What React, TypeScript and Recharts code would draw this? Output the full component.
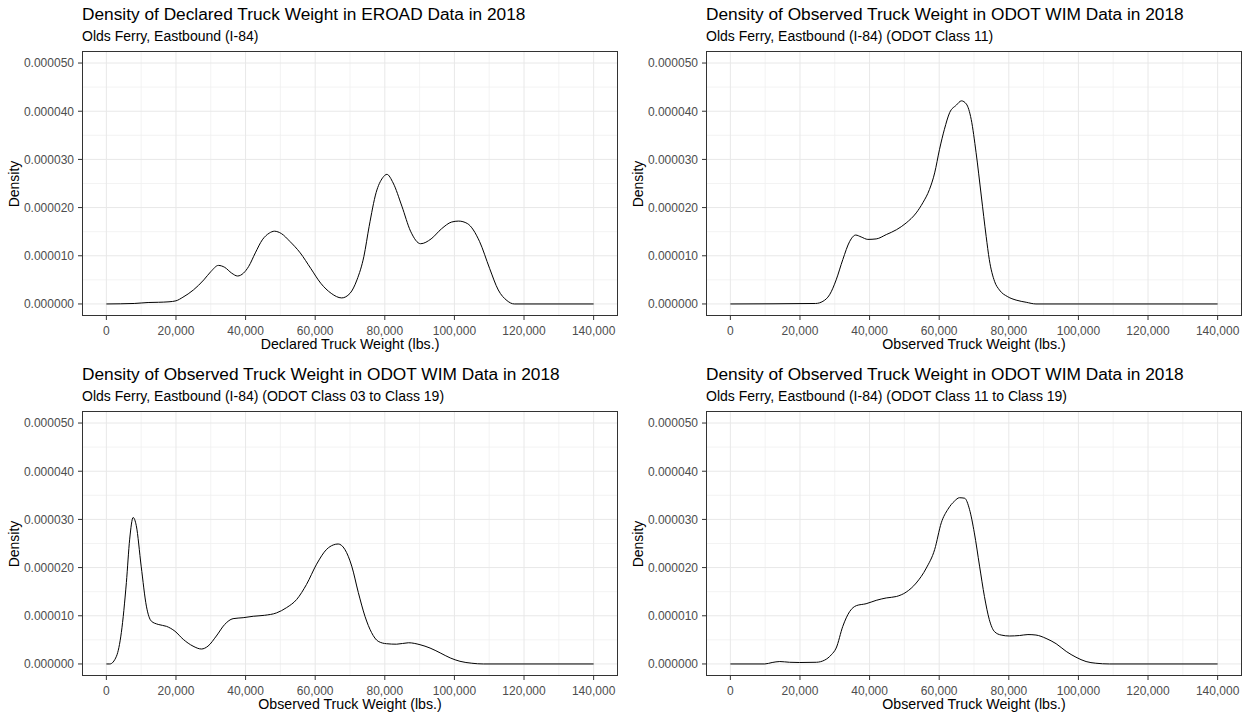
import React from "react";
import { LineChart, Line, XAxis, YAxis, ReferenceLine } from "recharts";

const FONT = '"Liberation Sans", Arial, sans-serif';
const PANEL_W = 624;
const PANEL_H = 360;

// axis breaks; density is kept in units of 1e-6
const X_TICKS = [0, 20000, 40000, 60000, 80000, 100000, 120000, 140000];
const X_MINOR = [10000, 30000, 50000, 70000, 90000, 110000, 130000];
const Y_TICKS = [0, 10, 20, 30, 40, 50];
const Y_MINOR = [5, 15, 25, 35, 45];

// EROAD declared weights
const eroadWeights = [
  0, 8000, 10000, 12000, 15000, 18000, 20000, 22000, 25000, 28000, 30000, 32200, 34000, 36000,
  37700, 39400, 40900, 42800, 44800, 46800, 48300, 50300, 52700, 55700, 58700, 61600, 64600,
  67600, 70000, 72000, 74000, 75500, 77500, 79400, 80600, 82400, 84900, 87400, 90300, 93300,
  96300, 99200, 101200, 103700, 107200, 110100, 112600, 115100, 117200, 140000,
];
const eroadDensity = [
  0, 0.1, 0.2, 0.3, 0.35, 0.45, 0.65, 1.4, 2.9, 5.0, 6.7, 8.0, 7.6, 6.4,
  5.8, 6.4, 7.8, 10.6, 13.3, 14.7, 15.1, 14.6, 13.0, 10.6, 7.4, 4.3, 2.2,
  1.25, 2.2, 5.0, 9.9, 16.1, 23.1, 26.2, 26.9, 25.1, 20.3, 15.1, 12.5, 13.5,
  15.6, 17.0, 17.2, 16.7, 13.0, 7.4, 2.9, 0.7, 0, 0,
];

// WIM class 11
const class11Weights = [
  0, 24500, 26600, 28500, 30400, 32300, 34300, 36000, 37600, 39500, 41900, 44800, 47700, 50500,
  53400, 55300, 57200, 58700, 60100, 61500, 63000, 64900, 66400, 67800, 69200, 70600, 72100,
  73500, 74400, 75900, 77300, 79700, 82100, 85000, 87800, 140000,
];
const class11Density = [
  0, 0.1, 0.55, 1.9, 5.0, 9.2, 13.0, 14.3, 13.9, 13.4, 13.5, 14.4, 15.4, 16.8,
  18.9, 21.0, 23.75, 27.2, 32.1, 36.25, 39.7, 41.25, 42.15, 41.5, 38.3, 31.4, 22.4,
  14.0, 9.2, 4.7, 2.9, 1.5, 0.8, 0.35, 0, 0,
];

// WIM class 03 to 19
const class03to19Weights = [
  0, 1000, 2900, 4300, 5750, 6700, 7700, 8600, 10000, 11500, 12900, 14900, 17300, 19700,
  22100, 24900, 27300, 29200, 31600, 34000, 36400, 39300, 42200, 45500, 48900, 51800, 54700,
  57500, 60400, 63300, 65200, 66600, 68500, 70500, 72400, 74300, 76200, 78100, 80500, 83400,
  86800, 90100, 93000, 95900, 98800, 101600, 105000, 108300, 140000,
];
const class03to19Density = [
  0, 0, 1.6, 6.5, 16.9, 25.9, 30.4, 28.7, 20.3, 12.0, 8.9, 8.2, 7.8, 6.8,
  5.1, 3.7, 3.1, 3.7, 5.8, 8.2, 9.4, 9.6, 9.9, 10.1, 10.6, 11.7, 13.4,
  16.5, 20.7, 23.8, 24.7, 24.9, 23.8, 20.3, 14.8, 9.9, 6.5, 4.7, 4.2, 4.1,
  4.4, 4.0, 3.3, 2.3, 1.25, 0.55, 0.15, 0, 0,
];

// WIM class 11 to 19
const class11to19Weights = [
  0, 9900, 12000, 14200, 17000, 19900, 24700, 27100, 29000, 30400, 32300, 34300, 36200, 39000,
  41900, 44800, 47700, 50500, 53400, 56300, 58700, 60600, 62500, 64400, 65800, 67300, 68700,
  70100, 71600, 73000, 74400, 75900, 77800, 80200, 83100, 85500, 87800, 90700, 93600, 96500,
  99300, 102200, 105000, 108900, 140000,
];
const class11to19Density = [
  0, 0, 0.3, 0.5, 0.35, 0.3, 0.35, 0.8, 1.9, 3.3, 7.8, 10.9, 12.1, 12.5,
  13.2, 13.7, 14.0, 14.9, 16.8, 19.9, 23.75, 29.3, 32.1, 33.8, 34.5, 34.4, 32.1,
  27.2, 20.3, 14.0, 9.2, 6.7, 6.0, 5.8, 5.9, 6.1, 6.0, 5.3, 4.2, 2.6,
  1.4, 0.5, 0.15, 0, 0,
];

const WIM_TITLE = "Density of Observed Truck Weight in ODOT WIM Data in 2018";
const OBSERVED = "Observed Truck Weight (lbs.)";

// tick text drawn by hand so the size sticks
const XTick = (props: any) => {
  const { x, y, payload } = props;
  return (
    <text x={x} y={y} dy="0.72em" textAnchor="middle" fontSize={12} fill="#4d4d4d" fontFamily={FONT}>
      {payload.value.toLocaleString("en-US")}
    </text>
  );
};

const YTick = (props: any) => {
  const { x, y, payload } = props;
  return (
    <text x={x} y={y} dy="0.36em" textAnchor="end" fontSize={12} fill="#4d4d4d" fontFamily={FONT}>
      {(payload.value / 1e6).toFixed(6)}
    </text>
  );
};

interface PanelProps {
  left: number;
  top: number;
  title: string;
  subtitle: string;
  xLabel: string;
  weights: number[];
  density: number[];
}

function DensityPanel({ left, top, title, subtitle, xLabel, weights, density }: PanelProps) {
  const data = weights.map((w, i) => ({ w, d: density[i] }));

  return (
    <div style={{ position: "absolute", left, top, width: PANEL_W, height: PANEL_H }}>
      <LineChart
        width={PANEL_W}
        height={PANEL_H}
        data={data}
        margin={{ top: 51, right: 6, bottom: 0, left: 0 }}
      >
        <XAxis
          dataKey="w"
          type="number"
          domain={[-7000, 147000]}
          ticks={X_TICKS}
          interval={0}
          allowDataOverflow
          height={44}
          axisLine={false}
          tickLine={{ stroke: "#333333" }}
          tickSize={4}
          tickMargin={6}
          tick={<XTick />}
        />
        <YAxis
          type="number"
          domain={[-2.5, 52.5]}
          ticks={Y_TICKS}
          interval={0}
          allowDataOverflow
          width={82}
          axisLine={false}
          tickLine={{ stroke: "#333333" }}
          tickSize={4}
          tickMargin={4}
          tick={<YTick />}
        />
        {X_MINOR.map((v) => (
          <ReferenceLine key={"xm" + v} x={v} stroke="#f0f0f0" strokeWidth={0.8} />
        ))}
        {Y_MINOR.map((v) => (
          <ReferenceLine key={"ym" + v} y={v} stroke="#f0f0f0" strokeWidth={0.8} />
        ))}
        {X_TICKS.map((v) => (
          <ReferenceLine key={"x" + v} x={v} stroke="#e8e8e8" strokeWidth={1} />
        ))}
        {Y_TICKS.map((v) => (
          <ReferenceLine key={"y" + v} y={v} stroke="#e8e8e8" strokeWidth={1} />
        ))}
        <Line
          type="monotone"
          dataKey="d"
          stroke="#000000"
          strokeWidth={1}
          dot={false}
          isAnimationActive={false}
        />
      </LineChart>
      <svg
        width={PANEL_W}
        height={PANEL_H}
        style={{ position: "absolute", left: 0, top: 0, pointerEvents: "none" }}
        fontFamily={FONT}
      >
        <rect x={82.5} y={51.5} width={535} height={264} fill="none" stroke="#333333" strokeWidth={1} />
        <text x={82} y={20} fontSize={17.3} fill="#000">{title}</text>
        <text x={82} y={41} fontSize={14} fill="#000">{subtitle}</text>
        <text x={350} y={349} fontSize={14.2} fill="#000" textAnchor="middle">{xLabel}</text>
        <text
          x={19}
          y={184}
          fontSize={14}
          fill="#000"
          textAnchor="middle"
          transform="rotate(-90 19 184)"
        >
          Density
        </text>
      </svg>
    </div>
  );
}

export default function App() {
  return (
    <div
      style={{
        position: "absolute",
        left: 0,
        top: 0,
        width: 1246,
        height: 717,
        overflow: "hidden",
        background: "#fff",
      }}
    >
      <DensityPanel
        left={0}
        top={0}
        title="Density of Declared Truck Weight in EROAD Data in 2018"
        subtitle="Olds Ferry, Eastbound (I-84)"
        xLabel="Declared Truck Weight (lbs.)"
        weights={eroadWeights}
        density={eroadDensity}
      />
      <DensityPanel
        left={624}
        top={0}
        title={WIM_TITLE}
        subtitle="Olds Ferry, Eastbound (I-84) (ODOT Class 11)"
        xLabel={OBSERVED}
        weights={class11Weights}
        density={class11Density}
      />
      <DensityPanel
        left={0}
        top={360}
        title={WIM_TITLE}
        subtitle="Olds Ferry, Eastbound (I-84) (ODOT Class 03 to Class 19)"
        xLabel={OBSERVED}
        weights={class03to19Weights}
        density={class03to19Density}
      />
      <DensityPanel
        left={624}
        top={360}
        title={WIM_TITLE}
        subtitle="Olds Ferry, Eastbound (I-84) (ODOT Class 11 to Class 19)"
        xLabel={OBSERVED}
        weights={class11to19Weights}
        density={class11to19Density}
      />
    </div>
  );
}
